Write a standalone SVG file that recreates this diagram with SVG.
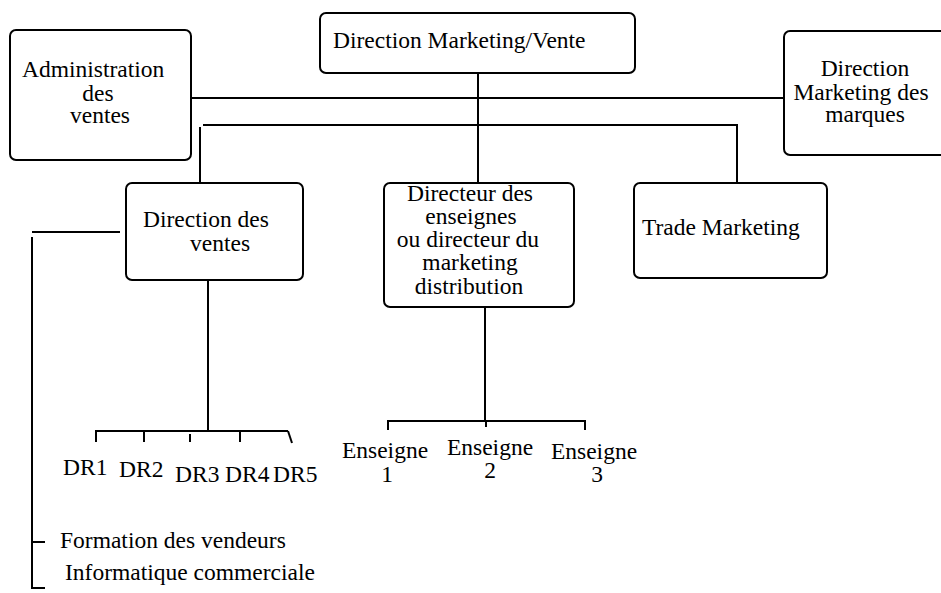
<svg xmlns="http://www.w3.org/2000/svg" width="941" height="593" viewBox="0 0 941 593">
  <style>
    .box { fill: #ffffff; stroke: #000000; stroke-width: 2; }
    .wire { fill: none; stroke: #000000; stroke-width: 2; }
    text { font-family: "Liberation Serif", "DejaVu Serif", serif; font-size: 23.5px; fill: #000000; }
    .mid { text-anchor: middle; }
  </style>
  <rect width="941" height="593" fill="#ffffff"/>

  <!-- connectors -->
  <g id="connectors" class="wire">
    <!-- main trunk and top-level branches -->
    <path d="M478 73 V183"/>
    <path d="M191 98 H784"/>
    <path d="M200 184 V127 M203 125 H737 V183"/>
    <!-- Direction des ventes to regional directors -->
    <path d="M208 280 V430"/>
    <path d="M96 442 V431 H288"/>
    <path d="M144 431 V442"/>
    <path d="M190 434 V442"/>
    <path d="M240 431 V442"/>
    <path d="M288 431 L292 443"/>
    <!-- side services -->
    <path d="M32 232 H120"/>
    <path d="M32 237 V588 H45"/>
    <path d="M32 542 H45"/>
    <!-- Directeur des enseignes to Enseignes -->
    <path d="M485 307 V420"/>
    <path d="M388 430 V421 H585 V430"/>
    <path d="M486 421 V427"/>
  </g>

  <g id="direction-marketing-vente">
    <rect class="box" x="320" y="13" width="315" height="60" rx="6"/>
    <text x="333" y="48">Direction Marketing/Vente</text>
  </g>

  <g id="administration-ventes">
    <rect class="box" x="10" y="30" width="181" height="130" rx="6"/>
    <text x="22" y="77">Administration</text>
    <text x="98" y="101" class="mid">des</text>
    <text x="100" y="123" class="mid">ventes</text>
  </g>

  <g id="direction-marketing-marques">
    <rect class="box" x="784" y="31" width="180" height="124" rx="6"/>
    <text x="865" y="76" class="mid">Direction</text>
    <text x="861" y="100" class="mid">Marketing des</text>
    <text x="865" y="122" class="mid">marques</text>
  </g>

  <g id="direction-ventes">
    <rect class="box" x="126" y="183" width="177" height="97" rx="6"/>
    <text x="143" y="227">Direction des</text>
    <text x="190" y="251">ventes</text>
  </g>

  <g id="directeur-enseignes">
    <rect class="box" x="384" y="183" width="190" height="124" rx="6"/>
    <text x="470" y="201" class="mid">Directeur des</text>
    <text x="471" y="224" class="mid">enseignes</text>
    <text x="468" y="247" class="mid">ou directeur du</text>
    <text x="470" y="270" class="mid">marketing</text>
    <text x="469" y="294" class="mid">distribution</text>
  </g>

  <g id="trade-marketing">
    <rect class="box" x="634" y="183" width="193" height="95" rx="6"/>
    <text x="642" y="235">Trade Marketing</text>
  </g>

  <g id="regions">
    <text x="63" y="475">DR1</text>
    <text x="119" y="477">DR2</text>
    <text x="175" y="482">DR3</text>
    <text x="225" y="482">DR4</text>
    <text x="273" y="482">DR5</text>
  </g>

  <g id="enseignes">
    <text x="385" y="458" class="mid">Enseigne</text>
    <text x="387" y="482" class="mid">1</text>
    <text x="490" y="455" class="mid">Enseigne</text>
    <text x="490" y="478" class="mid">2</text>
    <text x="594" y="459" class="mid">Enseigne</text>
    <text x="597" y="482" class="mid">3</text>
  </g>

  <g id="services">
    <text x="60" y="548">Formation des vendeurs</text>
    <text x="65" y="580">Informatique commerciale</text>
  </g>
</svg>
